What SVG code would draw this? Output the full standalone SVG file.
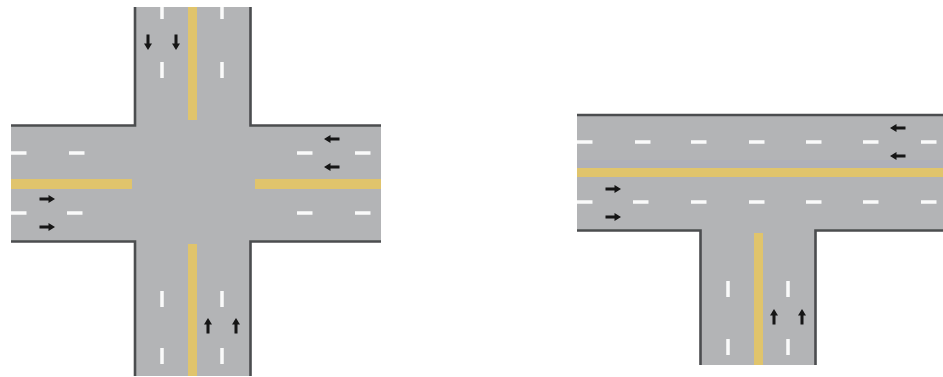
<svg xmlns="http://www.w3.org/2000/svg" width="943" height="377" viewBox="0 0 943 377">
<style>
.road{fill:#b3b4b6}
.edge{fill:none;stroke:#4c4d4f;stroke-width:2.6}
.yl{fill:#e0c46c}
.ds{fill:#fafafa}
.ar{fill:none;stroke:#141414;stroke-width:3}
.hd{fill:#141414}
</style>
<defs>
<filter id="soft" x="-5%" y="-5%" width="110%" height="110%"><feGaussianBlur stdDeviation="0.45"/></filter>
<g id="arrow"><path class="ar" d="M-7.5 0H3"/><path class="hd" d="M8 0L1.500 -4V4Z"/></g>
<rect id="dh" class="ds" x="0" y="-1.750" width="15.500" height="3.500"/>
<rect id="dv" class="ds" x="-1.750" y="0" width="3.500" height="16"/>
</defs>
<rect width="943" height="377" fill="#fff"/>
<g id="cross-intersection" filter="url(#soft)">
<path class="road" d="M135 7H250.500V125.500H381V241.500H250.500V376H135V241.500H11V125.500H135Z"/>
<path class="edge" d="M135 7V125.500H11M250.500 7V125.500H381M11 241.500H135V376M381 241.500H250.500V376"/>
<rect class="yl" x="188" y="7" width="9" height="113"/>
<rect class="yl" x="188" y="244" width="9" height="132"/>
<rect class="yl" x="11" y="179" width="121" height="10"/>
<rect class="yl" x="255" y="179" width="126" height="10"/>
<rect class="ds" x="160.250" y="7" width="3.500" height="12"/><rect class="ds" x="220.250" y="7" width="3.500" height="12"/>
<use href="#dv" x="162" y="62"/><use href="#dv" x="222" y="62"/>
<use href="#dv" x="162" y="291"/><use href="#dv" x="222" y="291"/>
<use href="#dv" x="162" y="348"/><use href="#dv" x="222" y="348"/>
<use href="#dh" x="11" y="153"/><use href="#dh" x="69" y="153"/>
<use href="#dh" x="297" y="153"/><use href="#dh" x="355" y="153"/>
<use href="#dh" x="11" y="213"/><use href="#dh" x="67" y="213"/>
<use href="#dh" x="297" y="213"/><use href="#dh" x="355" y="213"/>
<use href="#arrow" transform="translate(148 42) rotate(90)"/>
<use href="#arrow" transform="translate(176 42) rotate(90)"/>
<use href="#arrow" transform="translate(47 199)"/>
<use href="#arrow" transform="translate(47 227)"/>
<use href="#arrow" transform="translate(332 139) rotate(180)"/>
<use href="#arrow" transform="translate(332 167) rotate(180)"/>
<use href="#arrow" transform="translate(208 326) rotate(-90)"/>
<use href="#arrow" transform="translate(236 326) rotate(-90)"/>
</g>
<g id="t-intersection" filter="url(#soft)">
<path class="road" d="M577 115H943V231H815.500V365H700.500V231H577Z"/>
<rect x="577" y="160" width="366" height="8" fill="#afb0b8"/>
<path class="edge" d="M577 115H943M577 230.500H700.500V365M943 230.500H815.500V365"/>
<rect class="yl" x="577" y="168" width="366" height="9"/>
<rect class="yl" x="754" y="233" width="9" height="132"/>
<use href="#dh" x="577" y="142"/><use href="#dh" x="635" y="142"/><use href="#dh" x="691" y="142"/><use href="#dh" x="749" y="142"/><use href="#dh" x="806" y="142"/><use href="#dh" x="863" y="142"/><use href="#dh" x="921" y="142"/>
<use href="#dh" x="577" y="202"/><use href="#dh" x="633" y="202"/><use href="#dh" x="691" y="202"/><use href="#dh" x="749" y="202"/><use href="#dh" x="806" y="202"/><use href="#dh" x="863" y="202"/><use href="#dh" x="921" y="202"/>
<use href="#dv" x="728" y="281"/><use href="#dv" x="788" y="281"/>
<use href="#dv" x="728" y="339"/><use href="#dv" x="788" y="339"/>
<use href="#arrow" transform="translate(613 189)"/>
<use href="#arrow" transform="translate(613 217)"/>
<use href="#arrow" transform="translate(898 128) rotate(180)"/>
<use href="#arrow" transform="translate(898 156) rotate(180)"/>
<use href="#arrow" transform="translate(774 317) rotate(-90)"/>
<use href="#arrow" transform="translate(802 317) rotate(-90)"/>
</g>
</svg>
